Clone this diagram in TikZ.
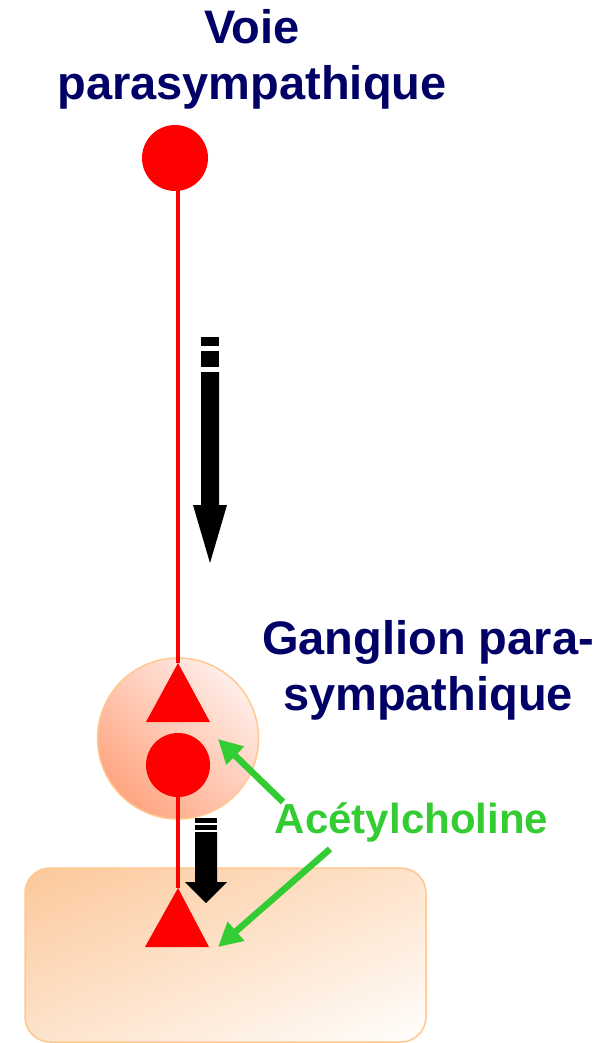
\documentclass[tikz,border=0pt]{standalone}
\usepackage{fontspec}
\setmainfont{Liberation Sans}
\usetikzlibrary{arrows.meta}
\definecolor{navy}{HTML}{000066}
\definecolor{acgreen}{HTML}{33CC33}
\definecolor{peach}{HTML}{FCC89A}
\definecolor{peachline}{HTML}{FFC890}
\definecolor{salmon}{HTML}{FF9C74}
\definecolor{pinkwhite}{HTML}{FFF7F6}
\definecolor{creamwhite}{HTML}{FFFEFD}
\begin{document}
\begin{tikzpicture}[x=1pt,y=-1pt,
  redball/.style={circle, fill=red, inner sep=0pt, minimum size=#1},
  axon/.style={draw=red, line width=3.5pt},
  neurotri/.style={fill=red},
  blockarrow/.style={fill=black},
  chem/.style={draw=acgreen, line width=6.5pt, -{Triangle[length=24pt,width=24pt]}},
  heading/.style={font=\bfseries\fontsize{47}{56}\selectfont, text=navy, align=center, inner sep=0pt, anchor=north},
]
\useasboundingbox (0,0) rectangle (599,1043);
\fill[white] (0,0) rectangle (599,1043);

% effector tissue
\begin{scope}
  \clip[rounded corners=25pt] (25,868) rectangle (426,1042);
  \begin{scope}[transform canvas={rotate around={23.5:(225.5,955)}}]
    \shade[top color=peach, bottom color=creamwhite]
      (-100,795) rectangle (550,1115);
  \end{scope}
\end{scope}
\draw[draw=peachline, line width=1.5pt, rounded corners=25pt] (25,868) rectangle (426,1042);

% ganglion
\begin{scope}
  \clip (178,738.5) circle[radius=80.5];
  \shade[top color=pinkwhite, bottom color=salmon, shading angle=-45]
    (178,738.5) ++(-100,-100) rectangle ++(200,200);
\end{scope}
\node[circle, minimum size=161pt, inner sep=0pt, draw=peachline, line width=1.5pt] (gang) at (178,738.5) {};

% neurons
\coordinate (c1) at (175,158);
\coordinate (c2) at (178,765);
\coordinate (t1) at (178,663);
\coordinate (t2) at (178,888);
\draw[axon] (c1 -| t1) -- (t1);
\draw[axon] (c2) -- (t2);
\node[redball=66pt] (n1) at (c1) {};
\node[redball=64pt] (n2) at (c2) {};
\fill[neurotri] (t1) -- ++(-32,59) -- ++(64,0) -- cycle;
\fill[neurotri] (t2) -- ++(-33,59) -- ++(64,0) -- cycle;

% black propagation arrows
\fill[blockarrow] (201,337) rectangle (219,346);
\fill[blockarrow] (201,351) rectangle (219,367);
\fill[blockarrow] (201,372) -- (201,505) -- (193,505) -- (210,563) -- (227,505) -- (219,505) -- (219,372) -- cycle;

\fill[blockarrow] (195,818) rectangle (217,823);
\fill[blockarrow] (195,825) rectangle (217,830);
\fill[blockarrow] (195,832) -- (195,882) -- (185,882) -- (206,903) -- (227,882) -- (217,882) -- (217,832) -- cycle;

% texts
\node[heading] (title) at (252,9) {Voie\\parasympathique};
\node[heading] (gtitle) at (428,620) {Ganglion para-\\sympathique};
\node[font=\bfseries\fontsize{42}{48}\selectfont, text=acgreen, inner sep=0pt, anchor=base] (ach) at (411.5,833) {Acétylcholine};

% acetylcholine arrows
\coordinate (a1) at (283,802);
\coordinate (h1) at (218,739);
\coordinate (a2) at (330,849);
\coordinate (h2) at (218,947);
\draw[chem] (a1) -- (h1);
\draw[chem] (a2) -- (h2);
\end{tikzpicture}
\end{document}
